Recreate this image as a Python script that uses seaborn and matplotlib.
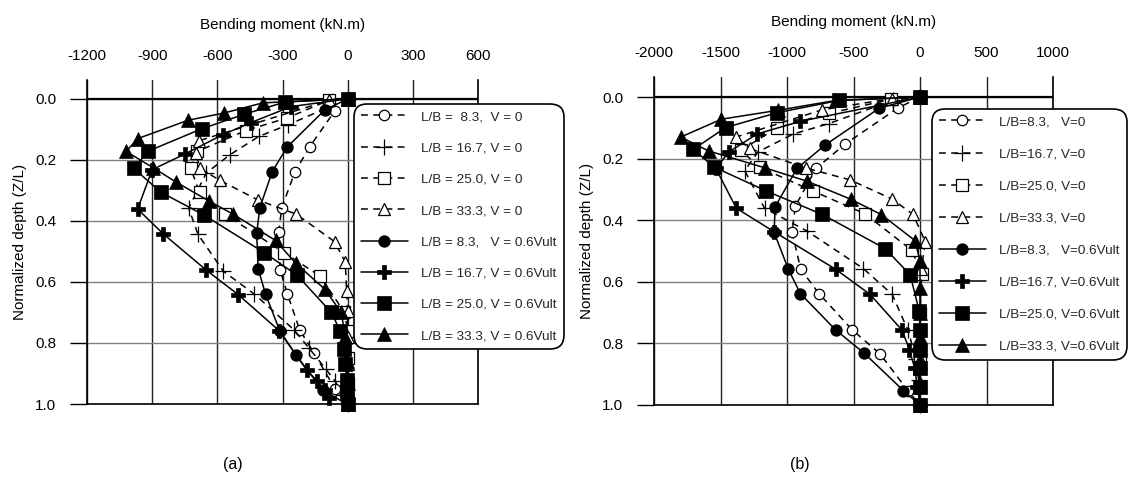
import matplotlib
matplotlib.use("Agg")
import matplotlib.pyplot as plt
import seaborn as sns
import numpy as np

# ---------------- data : panel (a) ----------------
a_lb83_v0_d   = [0, 0.038, 0.156, 0.238, 0.356, 0.437, 0.561, 0.640, 0.757, 0.832, 0.950, 1.0]
a_lb83_v0_m   = [0, -58, -174, -242, -303, -318, -311, -277, -221, -156, -58, -5]
a_lb167_v0_d  = [0, 0.085, 0.123, 0.183, 0.243, 0.358, 0.444, 0.565, 0.640, 0.757, 0.815, 0.886, 0.923, 0.97, 1.0]
a_lb167_v0_m  = [0, -275, -409, -542, -651, -732, -689, -572, -429, -247, -180, -100, -60, -20, 0]
a_lb250_v0_d  = [0, 0.005, 0.062, 0.104, 0.172, 0.227, 0.306, 0.378, 0.504, 0.581, 0.70, 0.76, 0.85, 0.93, 1.0]
a_lb250_v0_m  = [0, -88, -277, -470, -692, -723, -682, -565, -293, -126, -15, 0, 0, 0, 0]
a_lb333_v0_d  = [0, 0.005, 0.137, 0.177, 0.227, 0.267, 0.331, 0.378, 0.468, 0.535, 0.628, 0.694, 0.78, 0.87, 0.95]
a_lb333_v0_m  = [0, -87, -684, -697, -682, -588, -414, -236, -60, -11, -5, 0, 0, 0, 0]
a_lb83_v6_d   = [0, 0.036, 0.158, 0.238, 0.356, 0.44, 0.557, 0.640, 0.761, 0.838, 0.954, 1.0]
a_lb83_v6_m   = [0, -105, -279, -347, -404, -419, -412, -378, -312, -240, -115, -5]
a_lb167_v6_d  = [0, 0.025, 0.078, 0.117, 0.18, 0.232, 0.361, 0.443, 0.56, 0.642, 0.76, 0.89, 0.924, 0.955, 0.979]
a_lb167_v6_m  = [0, -260, -447, -574, -748, -900, -967, -848, -653, -503, -315, -187, -141, -105, -87]
a_lb250_v6_d  = [0, 0.01, 0.05, 0.098, 0.172, 0.228, 0.306, 0.38, 0.504, 0.577, 0.70, 0.76, 0.82, 0.87, 0.92, 0.96, 1.0]
a_lb250_v6_m  = [0, -287, -475, -672, -921, -984, -860, -663, -384, -234, -75, -35, -15, -10, -5, -3, 0]
a_lb333_v6_d  = [0, 0.013, 0.046, 0.07, 0.13, 0.172, 0.225, 0.273, 0.334, 0.378, 0.464, 0.538, 0.624, 0.70, 0.78, 0.86, 0.93, 1.0]
a_lb333_v6_m  = [0, -391, -568, -735, -966, -1020, -897, -789, -640, -527, -332, -240, -105, -30, -10, -5, 0, 0]

# ---------------- data : panel (b) ----------------
b_lb83_v0_d   = [0, 0.036, 0.154, 0.232, 0.354, 0.437, 0.559, 0.638, 0.756, 0.834, 0.953, 1.0]
b_lb83_v0_m   = [0, -167, -567, -782, -937, -962, -897, -760, -510, -300, -92, 0]
b_lb167_v0_d  = [0, 0.01, 0.086, 0.12, 0.178, 0.239, 0.361, 0.435, 0.557, 0.641, 0.758, 0.85, 0.92, 1.0]
b_lb167_v0_m  = [0, -200, -683, -952, -1218, -1318, -1169, -850, -426, -209, -90, -30, -10, 0]
b_lb250_v0_d  = [0, 0.007, 0.053, 0.1, 0.173, 0.228, 0.305, 0.379, 0.497, 0.576, 0.7, 0.85, 1.0]
b_lb250_v0_m  = [0, -215, -682, -1075, -1347, -1206, -806, -415, -63, 15, 0, 0, 0]
b_lb333_v0_d  = [0, 0.005, 0.042, 0.13, 0.167, 0.231, 0.269, 0.331, 0.381, 0.47, 0.56, 0.7, 0.85, 1.0]
b_lb333_v0_m  = [0, -213, -740, -1383, -1281, -855, -526, -212, -52, 40, 10, 0, 0, 0]
b_lb83_v6_d   = [0, 0.036, 0.157, 0.232, 0.356, 0.439, 0.557, 0.638, 0.756, 0.831, 0.953, 1.0]
b_lb83_v6_m   = [0, -305, -717, -925, -1089, -1097, -992, -900, -635, -422, -125, 0]
b_lb167_v6_d  = [0, 0.079, 0.12, 0.178, 0.232, 0.361, 0.438, 0.559, 0.641, 0.757, 0.82, 0.88, 0.94, 1.0]
b_lb167_v6_m  = [0, -900, -1225, -1436, -1535, -1381, -1095, -635, -375, -135, -80, -40, -20, 0]
b_lb250_v6_d  = [0, 0.011, 0.051, 0.099, 0.17, 0.228, 0.305, 0.381, 0.492, 0.577, 0.696, 0.756, 0.82, 0.88, 0.94, 1.0]
b_lb250_v6_m  = [0, -607, -1075, -1461, -1705, -1546, -1156, -736, -263, -74, -5, 0, 0, 0, 0, 0]
b_lb333_v6_d  = [0, 0.011, 0.043, 0.072, 0.13, 0.175, 0.23, 0.273, 0.332, 0.382, 0.466, 0.532, 0.62, 0.70, 0.78, 0.86, 0.93, 1.0]
b_lb333_v6_m  = [0, -632, -1066, -1493, -1799, -1590, -1166, -852, -520, -290, -38, 0, 0, 0, 0, 0, 0, 0]

labels_a = ["L/B =  8.3,  V = 0", "L/B = 16.7, V = 0", "L/B = 25.0, V = 0", "L/B = 33.3, V = 0",
            "L/B = 8.3,   V = 0.6Vult", "L/B = 16.7, V = 0.6Vult", "L/B = 25.0, V = 0.6Vult", "L/B = 33.3, V = 0.6Vult"]
labels_b = ["L/B=8.3,   V=0", "L/B=16.7, V=0", "L/B=25.0, V=0", "L/B=33.3, V=0",
            "L/B=8.3,   V=0.6Vult", "L/B=16.7, V=0.6Vult", "L/B=25.0, V=0.6Vult", "L/B=33.3, V=0.6Vult"]
xticks_a = [-1200, -900, -600, -300, 0, 300, 600]
xticks_b = [-2000, -1500, -1000, -500, 0, 500, 1000]
yticks = [0.0, 0.2, 0.4, 0.6, 0.8, 1.0]

series_a = [(a_lb83_v0_m, a_lb83_v0_d), (a_lb167_v0_m, a_lb167_v0_d), (a_lb250_v0_m, a_lb250_v0_d),
            (a_lb333_v0_m, a_lb333_v0_d), (a_lb83_v6_m, a_lb83_v6_d), (a_lb167_v6_m, a_lb167_v6_d),
            (a_lb250_v6_m, a_lb250_v6_d), (a_lb333_v6_m, a_lb333_v6_d)]
series_b = [(b_lb83_v0_m, b_lb83_v0_d), (b_lb167_v0_m, b_lb167_v0_d), (b_lb250_v0_m, b_lb250_v0_d),
            (b_lb333_v0_m, b_lb333_v0_d), (b_lb83_v6_m, b_lb83_v6_d), (b_lb167_v6_m, b_lb167_v6_d),
            (b_lb250_v6_m, b_lb250_v6_d), (b_lb333_v6_m, b_lb333_v6_d)]

# ---------------- styling ----------------
sns.set_theme(style="white")
plt.rcParams["font.family"] = ["Liberation Sans", "DejaVu Sans"]

DASH = (0, (4.5, 3.5))
styles = [
    dict(marker="o", markersize=7.5, markerfacecolor="white", markeredgecolor="black", markeredgewidth=0.9, linestyle=DASH),
    dict(marker="+", markersize=11, markerfacecolor="black", markeredgecolor="black", markeredgewidth=0.9, linestyle=DASH),
    dict(marker="s", markersize=8, markerfacecolor="white", markeredgecolor="black", markeredgewidth=0.9, linestyle=DASH),
    dict(marker="^", markersize=8.5, markerfacecolor="white", markeredgecolor="black", markeredgewidth=0.9, linestyle=DASH),
    dict(marker="o", markersize=8, markerfacecolor="black", markeredgecolor="black", markeredgewidth=0.9, linestyle="-"),
    dict(marker="P", markersize=10, markerfacecolor="black", markeredgecolor="black", markeredgewidth=0.5, linestyle="-"),
    dict(marker="s", markersize=9.5, markerfacecolor="black", markeredgecolor="black", markeredgewidth=0.5, linestyle="-"),
    dict(marker="^", markersize=10, markerfacecolor="black", markeredgecolor="black", markeredgewidth=0.5, linestyle="-"),
]

W, H = 1128, 483
fig = plt.figure(figsize=(W / 100, H / 100), dpi=100)
fig.patch.set_facecolor("white")
axA = fig.add_axes([87 / W, 1 - 404 / H, (478 - 87) / W, (404 - 80) / H])
axB = fig.add_axes([654 / W, 1 - 405 / H, (1053 - 654) / W, (405 - 77) / H])


def draw(ax, series, xticks, ytop):
    handles = []
    for (m, d), st in zip(series, styles):
        sns.lineplot(x=m, y=d, ax=ax, sort=False, estimator=None, color="black",
                     linewidth=1.1, clip_on=False, **st)
        handles.append(ax.lines[-1])
    ax.set_xlim(xticks[0], xticks[-1])
    ax.set_ylim(1.0, ytop)
    ax.set_xticks(xticks)
    ax.set_xticklabels([str(v) for v in xticks])
    ax.set_yticks(yticks)
    ax.set_yticklabels([f"{v:.1f}" for v in yticks])
    ax.xaxis.tick_top()
    ax.xaxis.set_label_position("top")
    ax.tick_params(axis="x", top=True, bottom=False, length=0, pad=12, labelsize=11, colors="black")
    ax.tick_params(axis="y", left=True, length=12, width=1.0, direction="out", pad=10,
                   labelsize=11, colors="black")
    ax.grid(True, axis="x", color="#222222", linewidth=1.0)
    ax.grid(True, axis="y", color="#808080", linewidth=1.0)
    ax.set_axisbelow(True)
    ax.axhline(0, color="black", linewidth=1.6, zorder=1.5)
    for sp in ["left", "right", "bottom"]:
        ax.spines[sp].set_visible(True)
        ax.spines[sp].set_color("black")
        ax.spines[sp].set_linewidth(1.2)
    ax.spines["top"].set_visible(False)
    ax.set_xlabel("Bending moment (kN.m)", fontsize=11, labelpad=15, color="black")
    ax.set_ylabel("Normalized depth (Z/L)", fontsize=11, labelpad=6, color="black")
    return handles


hA = draw(axA, series_a, xticks_a, -0.062)
hB = draw(axB, series_b, xticks_b, -0.065)

leg_kw = dict(loc="upper left", fontsize=9.7, handlelength=3.5, borderaxespad=0,
              handletextpad=1.0, borderpad=0.5, frameon=True, fancybox=True,
              framealpha=1, edgecolor="black", facecolor="white", numpoints=1)
legA = fig.legend(hA, labels_a, bbox_to_anchor=(354 / W, 1 - 104 / H), labelspacing=1.40, **leg_kw)
legB = fig.legend(hB, labels_b, bbox_to_anchor=(932 / W, 1 - 109 / H), labelspacing=1.46, **leg_kw)
for lg in (legA, legB):
    fr = lg.get_frame()
    fr.set_linewidth(1.2)
    fr.set_boxstyle("round", pad=0, rounding_size=1.0)

fig.text(233 / W, 1 - 465 / H, "(a)", ha="center", va="center", fontsize=11.5, color="black")
fig.text(800 / W, 1 - 465 / H, "(b)", ha="center", va="center", fontsize=11.5, color="black")

fig.savefig("out.png", dpi=100, facecolor="white")
